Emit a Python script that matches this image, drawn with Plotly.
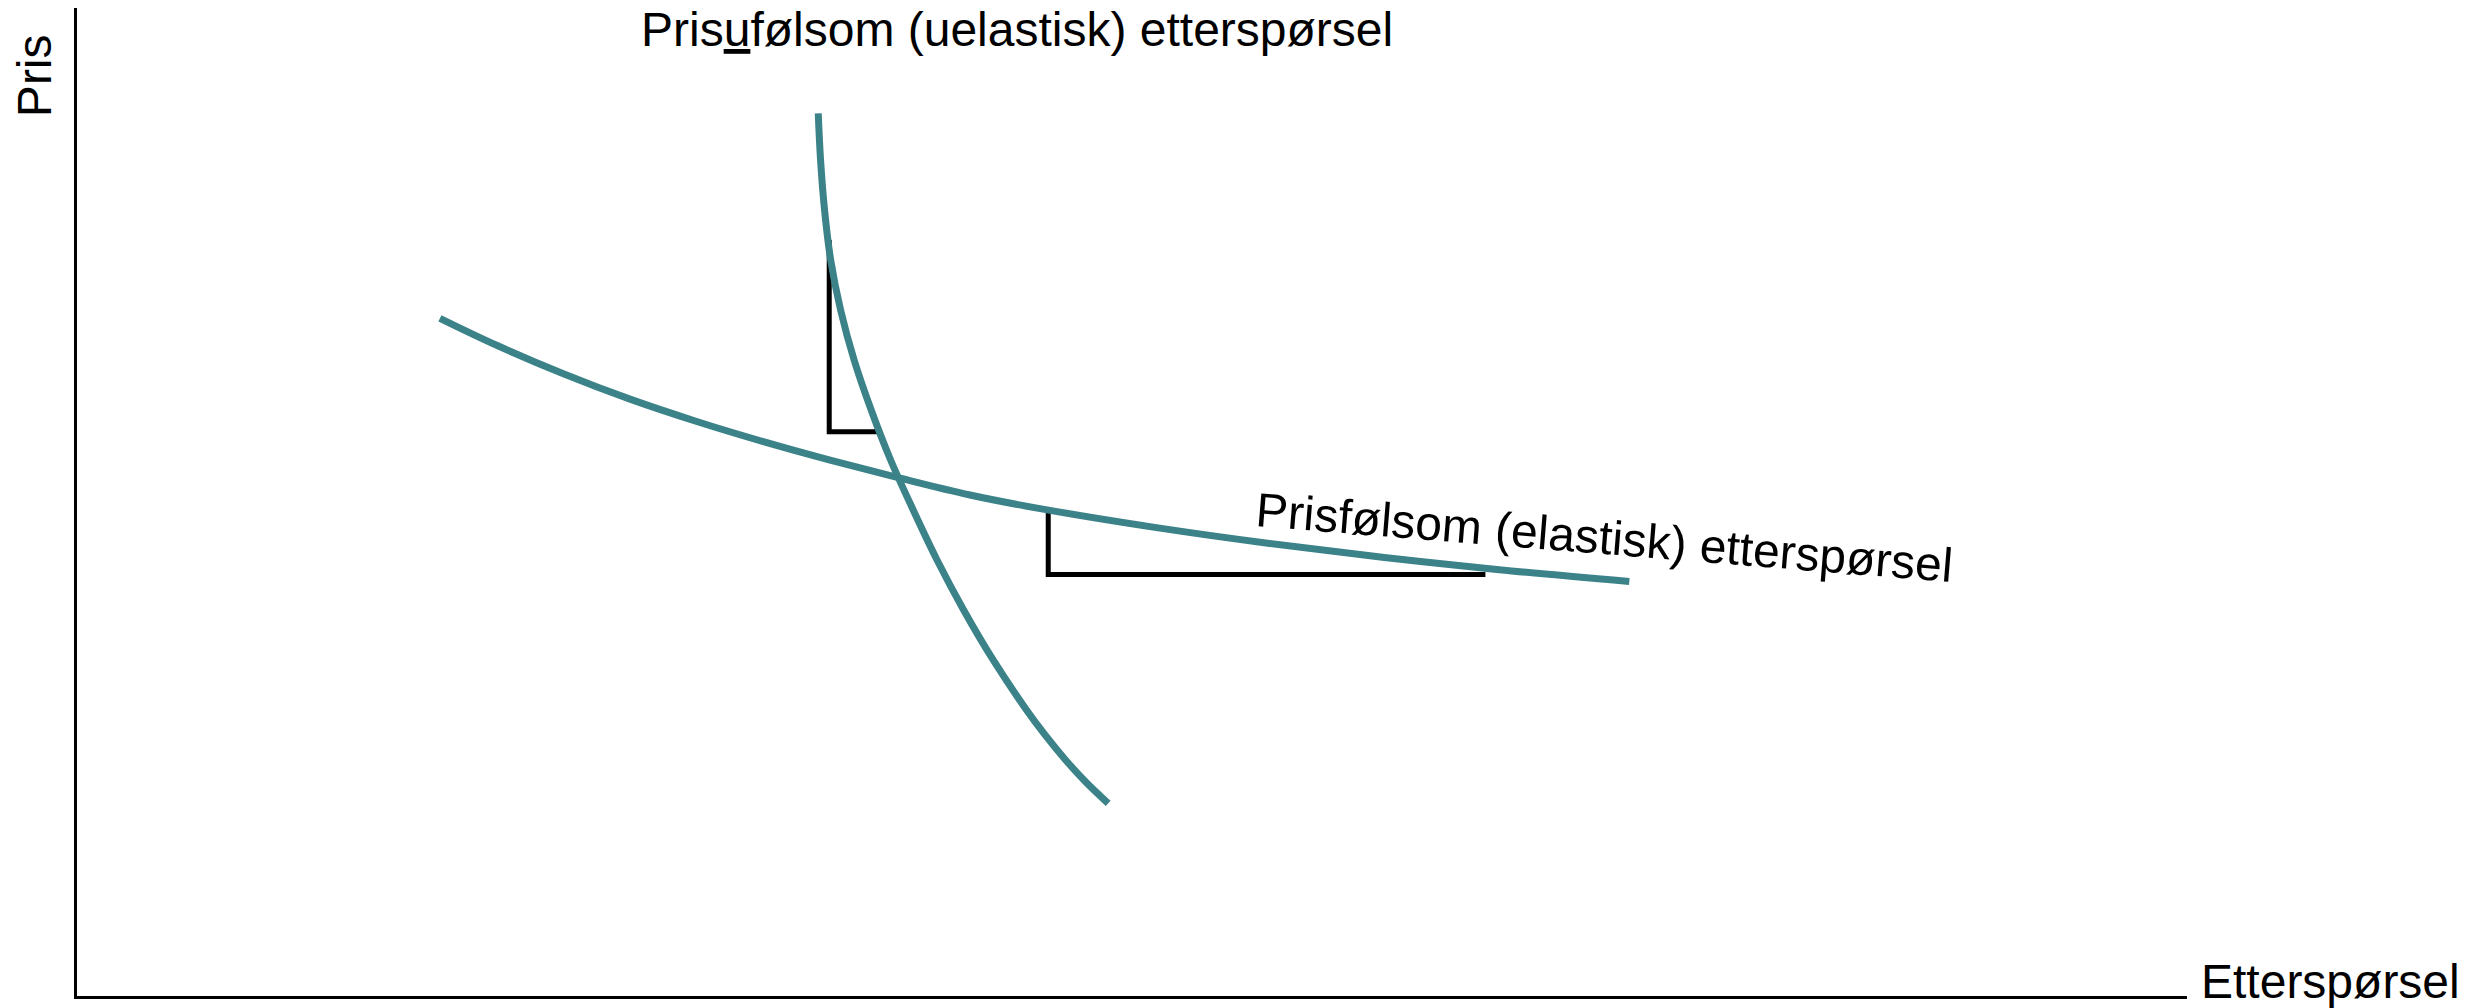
import plotly.graph_objects as go

# ---- data (schematic units: quantity 0-100, price 0-100) ----
inelastic_q = [35.13, 35.24, 35.43, 35.72, 36.19, 36.83, 37.64, 38.56, 39.63, 40.76,
               42.02, 43.42, 45.00, 45.88, 46.85, 47.81, 48.87]
inelastic_p = [89.34, 84.62, 79.55, 74.49, 69.43, 64.37, 59.31, 54.25, 49.19, 44.13,
               39.07, 34.01, 28.95, 26.42, 23.89, 21.66, 19.50]

elastic_q = [17.20, 19.89, 23.05, 26.21, 29.37, 32.53, 35.69, 38.96, 42.32, 45.64,
             51.08, 56.52, 61.96, 67.40, 73.57]
elastic_p = [68.59, 65.86, 62.98, 60.41, 58.15, 56.11, 54.24, 52.44, 50.71, 49.33,
             47.43, 45.80, 44.38, 43.15, 41.96]

tri1_q = [35.65, 35.65, 37.93]
tri1_p = [76.52, 57.11, 57.11]
tri2_q = [46.03, 46.03, 66.75]
tri2_p = [48.99, 42.66, 42.66]

title_inelastic = "Pris<u>u</u>følsom (uelastisk) etterspørsel"
title_elastic = "Prisfølsom (elastisk) etterspørsel"
x_label = "Etterspørsel"
y_label = "Pris"

TEAL = "#3b8289"
FONT = "Liberation Sans, Arial, sans-serif"
FS = 48

fig = go.Figure()
for q, p in [(tri1_q, tri1_p), (tri2_q, tri2_p)]:
    fig.add_trace(go.Scatter(x=q, y=p, mode="lines",
                             line=dict(color="black", width=5),
                             hoverinfo="skip", showlegend=False))
fig.add_trace(go.Scatter(x=elastic_q, y=elastic_p, mode="lines",
                         line=dict(color=TEAL, width=7, shape="spline", smoothing=1.0),
                         showlegend=False))
fig.add_trace(go.Scatter(x=inelastic_q, y=inelastic_p, mode="lines",
                         line=dict(color=TEAL, width=7, shape="spline", smoothing=1.0),
                         showlegend=False))

fig.add_annotation(x=44.55, y=97.8, xref="x", yref="y", text=title_inelastic,
                   showarrow=False, font=dict(family=FONT, size=FS, color="black"),
                   xanchor="center", yanchor="middle")
fig.add_annotation(x=72.37, y=46.45, xref="x", yref="y", text=title_elastic,
                   showarrow=False, textangle=4.6,
                   font=dict(family=FONT, size=FS, color="black"),
                   xanchor="center", yanchor="middle")
fig.add_annotation(x=1.0682, y=0.0142, xref="paper", yref="paper", text=x_label,
                   showarrow=False, font=dict(family=FONT, size=FS, color="black"),
                   xanchor="center", yanchor="middle")
fig.add_annotation(x=-0.0204, y=0.932, xref="paper", yref="paper", text=y_label,
                   showarrow=False, textangle=-90,
                   font=dict(family=FONT, size=FS, color="black"),
                   xanchor="center", yanchor="middle")

axis_common = dict(showgrid=False, zeroline=False, showticklabels=False, ticks="",
                   showline=True, linecolor="black", linewidth=3, mirror=False,
                   fixedrange=True)
fig.update_xaxes(range=[0, 100], **axis_common)
fig.update_yaxes(range=[0, 100], **axis_common)

fig.update_layout(width=2476, height=1008,
                  margin=dict(l=77, r=289, t=8, b=12),
                  paper_bgcolor="white", plot_bgcolor="white",
                  showlegend=False)

# remove the default 8px page margin so the figure fills the window exactly
fig.write_html("out.html",
               config={"displayModeBar": False},
               post_script="document.body.style.margin='0px';"
                           "document.body.style.overflow='hidden';")
